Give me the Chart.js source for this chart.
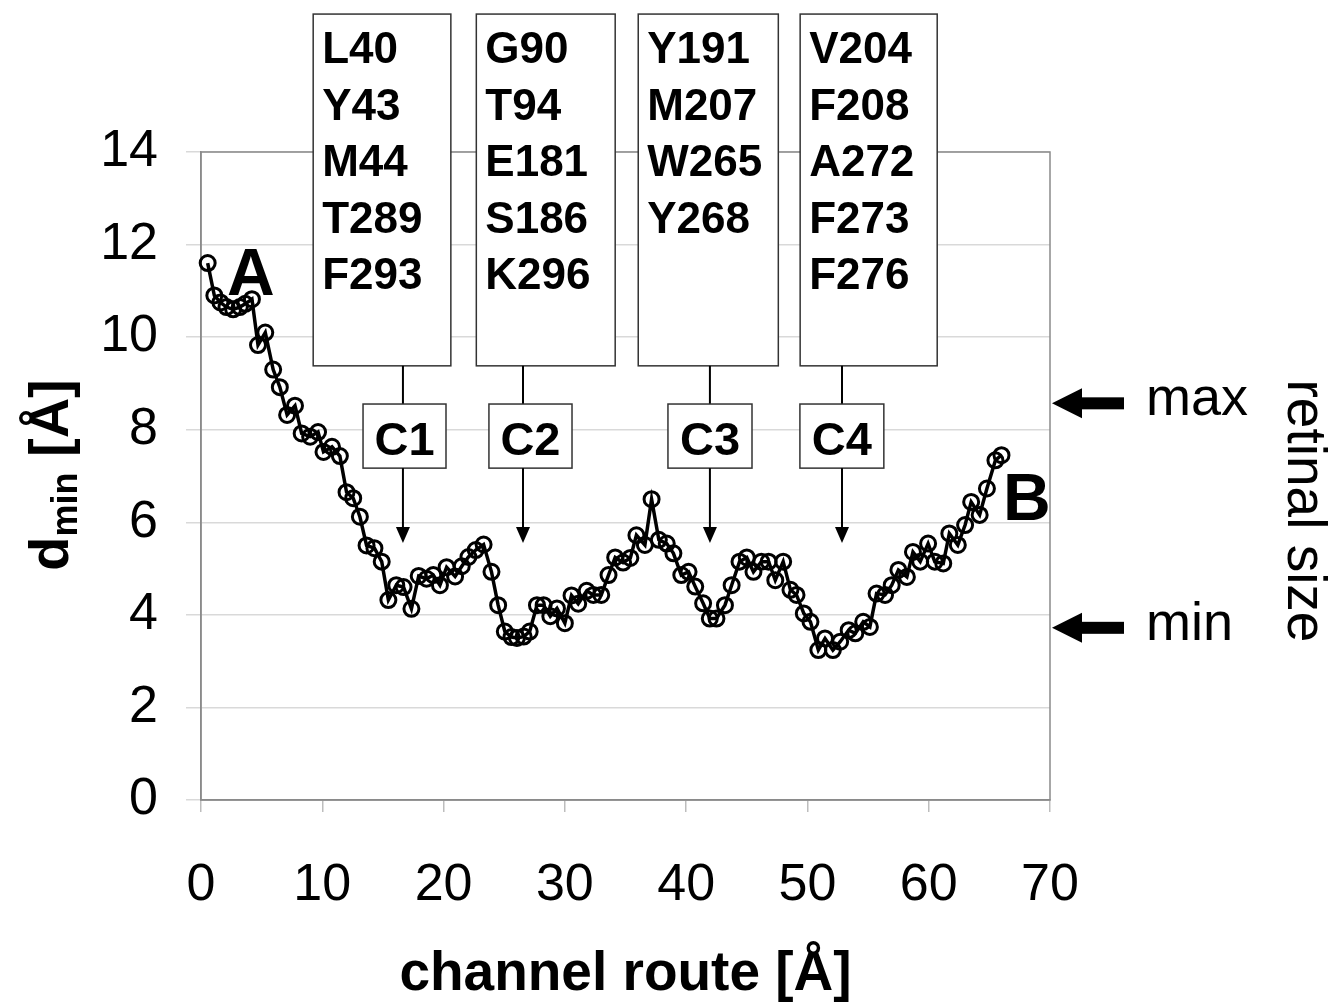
<!DOCTYPE html>
<html>
<head>
<meta charset="utf-8">
<script src="https://cdn.jsdelivr.net/npm/chart.js@4.4.1/dist/chart.umd.min.js"></script>
<style>
  html, body { margin: 0; padding: 0; background: #ffffff; }
  #wrap { width: 1334px; height: 1002px; }
</style>
</head>
<body>
<div id="wrap"><canvas id="c" width="1334" height="1002"></canvas></div>
<script>
// ---- data ----
const routeX = [0.55,1.1,1.6,2.1,2.65,3.2,3.65,4.2,4.7,5.3,5.95,6.5,7.1,7.75,8.3,9.0,9.65,10.1,10.8,11.45,
  12.0,12.55,13.1,13.65,14.3,14.9,15.45,16.1,16.7,17.35,17.95,18.6,19.15,19.7,20.25,20.95,21.5,22.05,22.65,23.3,
  23.95,24.5,25.05,25.6,26.05,26.6,27.1,27.7,28.25,28.8,29.35,30.0,30.55,31.1,31.8,32.35,33.0,33.6,34.15,34.8,
  35.4,35.9,36.6,37.15,37.75,38.4,38.95,39.6,40.2,40.75,41.4,41.95,42.5,43.2,43.75,44.4,45.0,45.55,46.2,46.8,
  47.35,48.0,48.6,49.1,49.7,50.25,50.9,51.45,52.1,52.7,53.4,53.95,54.6,55.15,55.7,56.4,56.95,57.5,58.2,58.7,
  59.3,59.95,60.5,61.2,61.7,62.4,63.0,63.5,64.2,64.8,65.5,66.0];
const dMin = [11.6,10.9,10.75,10.65,10.6,10.65,10.72,10.82,9.83,10.1,9.3,8.92,8.32,8.52,7.92,7.85,7.95,7.52,7.63,7.43,
  6.65,6.52,6.12,5.5,5.44,5.15,4.32,4.64,4.6,4.13,4.84,4.78,4.86,4.64,5.03,4.83,5.05,5.25,5.4,5.52,
  4.93,4.21,3.64,3.52,3.5,3.53,3.64,4.21,4.21,3.97,4.14,3.82,4.42,4.24,4.52,4.43,4.43,4.86,5.24,5.13,
  5.23,5.72,5.51,6.5,5.62,5.54,5.33,4.86,4.93,4.61,4.25,3.92,3.92,4.21,4.64,5.15,5.24,4.93,5.15,5.15,
  4.75,5.15,4.54,4.43,4.03,3.85,3.24,3.49,3.24,3.42,3.67,3.6,3.85,3.74,4.46,4.43,4.64,4.97,4.82,5.36,
  5.15,5.54,5.15,5.11,5.76,5.51,5.94,6.44,6.16,6.73,7.34,7.45];
const xTickValues = [0,10,20,30,40,50,60,70];
const yTickValues = [0,2,4,6,8,10,12,14];
const channelNames = ['C1','C2','C3','C4'];
const residueLists = [
  ['L40','Y43','M44','T289','F293'],
  ['G90','T94','E181','S186','K296'],
  ['Y191','M207','W265','Y268'],
  ['V204','F208','A272','F273','F276']
];
const retinalSize = { max: 8.57, min: 3.72 };

// ---- annotation layout (in data units) ----
const boxLayout = [
  { x0: 9.25, x1: 20.6, cx0: 13.36, cx1: 20.2, ax: 16.65 },
  { x0: 22.7, x1: 34.15, cx0: 23.74, cx1: 30.59, ax: 26.55 },
  { x0: 36.05, x1: 47.6, cx0: 38.5, cx1: 45.43, ax: 41.96 },
  { x0: 49.4, x1: 60.7, cx0: 49.38, cx1: 56.3, ax: 52.85 }
];
const boxTopY = 16.98, boxBotY = 9.38, cTopY = 8.555, cBotY = 7.17, arrowTipY = 5.55;

const FONT = "'Liberation Sans', Arial, Helvetica, sans-serif";

const annot = {
  id: 'annot',
  beforeDatasetsDraw(chart) {
    const { ctx, chartArea: a } = chart;
    ctx.save();
    ctx.strokeStyle = '#8a8a8a';
    ctx.lineWidth = 1.5;
    ctx.strokeRect(a.left, a.top, a.right - a.left, a.bottom - a.top);
    ctx.restore();
  },
  afterDraw(chart) {
    const { ctx } = chart;
    const X = v => chart.scales.x.getPixelForValue(v);
    const Y = v => chart.scales.y.getPixelForValue(v);
    ctx.save();
    ctx.fillStyle = '#000';
    ctx.textBaseline = 'alphabetic';

    boxLayout.forEach((b, i) => {
      const l = X(b.x0), r = X(b.x1), t = Y(boxTopY), bt = Y(boxBotY);
      ctx.fillStyle = '#fff';
      ctx.fillRect(l, t, r - l, bt - t);
      ctx.strokeStyle = '#333';
      ctx.lineWidth = 1.5;
      ctx.strokeRect(l, t, r - l, bt - t);
      ctx.fillStyle = '#000';
      ctx.font = 'bold 44px ' + FONT;
      ctx.textAlign = 'left';
      residueLists[i].forEach((s, k) => ctx.fillText(s, l + 9, t + 49 + k * 56.5));
      const ax = X(b.ax);
      const ct = Y(cTopY), cb = Y(cBotY);
      ctx.strokeStyle = '#000';
      ctx.lineWidth = 2;
      ctx.beginPath(); ctx.moveTo(ax, bt); ctx.lineTo(ax, ct); ctx.stroke();
      const cl = X(b.cx0), cr = X(b.cx1);
      ctx.fillStyle = '#fff';
      ctx.fillRect(cl, ct, cr - cl, cb - ct);
      ctx.strokeStyle = '#333';
      ctx.lineWidth = 1.5;
      ctx.strokeRect(cl, ct, cr - cl, cb - ct);
      ctx.fillStyle = '#000';
      ctx.font = 'bold 47px ' + FONT;
      ctx.textAlign = 'center';
      ctx.fillText(channelNames[i], (cl + cr) / 2, ct + 51);
      const tip = Y(arrowTipY);
      ctx.strokeStyle = '#000';
      ctx.lineWidth = 2;
      ctx.beginPath(); ctx.moveTo(ax, cb); ctx.lineTo(ax, tip - 12); ctx.stroke();
      ctx.beginPath(); ctx.moveTo(ax - 7, tip - 16); ctx.lineTo(ax + 7, tip - 16); ctx.lineTo(ax, tip); ctx.closePath(); ctx.fill();
    });

    ctx.font = 'bold 66px ' + FONT;
    ctx.textAlign = 'center';
    ctx.fillText('A', X(4.1), Y(10.9));
    ctx.fillText('B', X(68.1), Y(6.05));

    const right = chart.chartArea.right;
    [['max', retinalSize.max], ['min', retinalSize.min]].forEach(([lab, v]) => {
      const y = Y(v);
      const tipX = right + 2;
      ctx.fillStyle = '#000';
      ctx.fillRect(tipX + 26, y - 6, 46, 12);
      ctx.beginPath(); ctx.moveTo(tipX, y); ctx.lineTo(tipX + 30, y - 15); ctx.lineTo(tipX + 30, y + 15); ctx.closePath(); ctx.fill();
      ctx.font = '54px ' + FONT;
      ctx.textAlign = 'left';
      ctx.fillText(lab, 1146, y + 12);
    });
    ctx.save();
    ctx.translate(1288, 511);
    ctx.rotate(Math.PI / 2);
    ctx.font = '55px ' + FONT;
    ctx.textAlign = 'center';
    ctx.fillText('retinal size', 0, 0);
    ctx.restore();

    ctx.save();
    ctx.translate(68, 475);
    ctx.rotate(-Math.PI / 2);
    ctx.textAlign = 'left';
    const big = 'bold 56px ' + FONT, small = 'bold 36px ' + FONT;
    ctx.font = big; const w1 = ctx.measureText('d').width; const w3 = ctx.measureText(' [Å]').width;
    ctx.font = small; const w2 = ctx.measureText('min').width;
    let sx = -(w1 + w2 + w3) / 2;
    ctx.font = big; ctx.fillText('d', sx, 0);
    ctx.font = small; ctx.fillText('min', sx + w1, 9);
    ctx.font = big; ctx.fillText(' [Å]', sx + w1 + w2, 0);
    ctx.restore();

    ctx.font = 'bold 55px ' + FONT;
    ctx.textAlign = 'center';
    ctx.fillText('channel route [Å]', (chart.chartArea.left + chart.chartArea.right) / 2, 990);
    ctx.restore();
  }
};

new Chart(document.getElementById('c'), {
  type: 'line',
  data: {
    datasets: [{
      data: routeX.map((x, i) => ({ x, y: dMin[i] })),
      borderColor: '#000',
      borderWidth: 3.5,
      pointRadius: 7.5,
      pointBorderWidth: 3,
      pointBorderColor: '#000',
      pointBackgroundColor: 'rgba(255,255,255,0)',
      tension: 0,
      clip: false
    }]
  },
  options: {
    responsive: false,
    animation: false,
    events: [],
    layout: { padding: { top: 152, right: 284, left: 0, bottom: 0 } },
    plugins: { legend: { display: false }, tooltip: { enabled: false } },
    scales: {
      x: {
        type: 'linear', min: 0, max: 70,
        afterFit: s => { s.height = 202; },
        afterBuildTicks: s => { s.ticks = xTickValues.map(v => ({ value: v })); },
        grid: { drawOnChartArea: false, drawTicks: true, tickLength: 12, color: '#bdbdbd', lineWidth: 1.5 },
        border: { display: true, color: '#8a8a8a', width: 1.5 },
        ticks: { font: { family: FONT, size: 52 }, color: '#000', padding: 42, maxRotation: 0 }
      },
      y: {
        type: 'linear', min: 0, max: 14,
        afterFit: s => { s.width = 201; },
        afterBuildTicks: s => { s.ticks = yTickValues.map(v => ({ value: v })); },
        grid: { color: '#d9d9d9', lineWidth: 1.5, tickLength: 15 },
        border: { display: true, color: '#8a8a8a', width: 1.5 },
        ticks: { font: { family: FONT, size: 52 }, color: '#000', padding: 28 }
      }
    }
  },
  plugins: [annot]
});
</script>
</body>
</html>
